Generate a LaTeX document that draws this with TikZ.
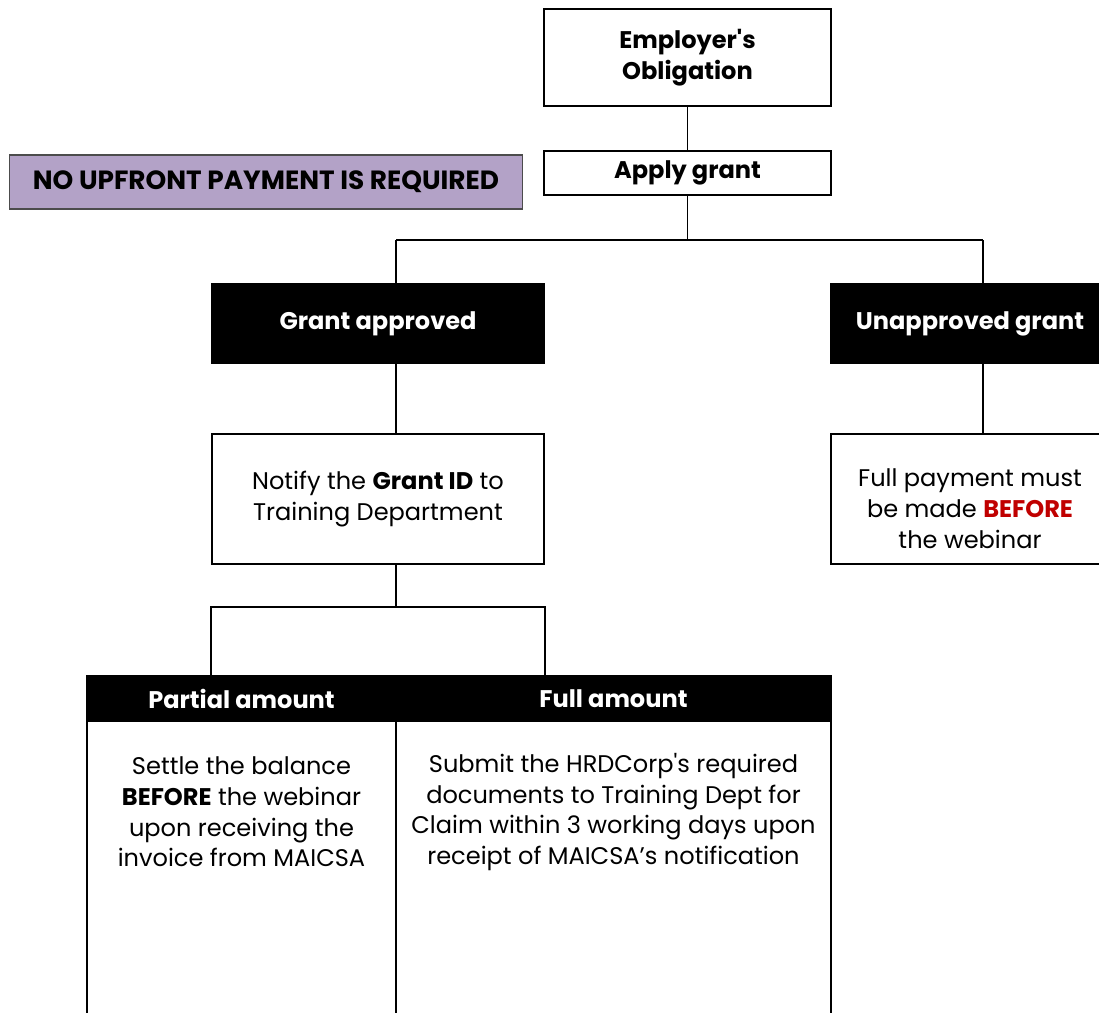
\documentclass[tikz,border=0pt]{standalone}
\usepackage{fontspec}
\setmainfont{Poppins}
\usetikzlibrary{positioning}
\definecolor{notefill}{HTML}{B3A2C7}
\definecolor{alertred}{HTML}{C00000}
\newcommand\chartsize{\fontsize{13.7pt}{17.5pt}\selectfont}
\tikzset{
  box/.style={draw, line width=1pt, align=center, inner sep=0pt, font=\chartsize},
  darkbox/.style={box, fill=black, text=white, font=\chartsize\bfseries},
  link/.style={line width=0.75pt},
}
\begin{document}
\begin{tikzpicture}[x=0.02cm, y=-0.02cm]
  \useasboundingbox (0,0) rectangle (1099,1012);
  \clip (0,0) rectangle (1099,1012);
  % top of the chart
  \node[box, font=\chartsize\bfseries, minimum width=5.74cm, minimum height=1.94cm] (employer) at (687.5,57.5) {Employer\textquotesingle s\\Obligation};
  \node[box, font=\chartsize\bfseries, minimum width=5.74cm, minimum height=0.88cm] (apply) at (687.5,173) {Apply grant};
  \node[box, font=\fontsize{15pt}{18pt}\selectfont\bfseries, fill=notefill, draw=black!70, line width=0.6pt, minimum width=10.28cm, minimum height=1.08cm] (note) at (266,182) {NO UPFRONT PAYMENT IS REQUIRED};
  % the two outcomes
  \node[darkbox, minimum width=6.64cm, minimum height=1.58cm] (approved) at (378,323.5) {Grant approved};
  \node[darkbox, minimum width=5.56cm, minimum height=1.58cm] (unapproved) at (970,323.5) {Unapproved grant};
  \node[box, minimum width=6.64cm, minimum height=2.6cm] (notify) at (378,499) {Notify the \textbf{Grant ID} to\\Training Department};
  \node[box, minimum width=5.56cm, minimum height=2.6cm] (fullpay) at (970,499) {\rule{0pt}{21pt}Full payment must\\be made \textcolor{alertred}{\textbf{BEFORE}}\\the webinar};
  % payment table
  \node[darkbox, minimum width=6.18cm, minimum height=0.9cm] (partialhead) at (241.5,698.5) {Partial amount};
  \node[darkbox, minimum width=8.7cm, minimum height=0.9cm] (fullhead) at (613.5,698.5) {Full amount};
  \node[box, minimum width=6.18cm, minimum height=6.38cm] (partialbody) at (241.5,880.5) {};
  \node[box, minimum width=8.7cm, minimum height=6.38cm] (fullbody) at (613.5,880.5) {};
  \node[align=center, font=\chartsize] (settle) at (241.5,812) {Settle the balance\\\textbf{BEFORE} the webinar\\upon receiving the\\invoice from MAICSA};
  \node[align=center, font=\chartsize] (submit) at (613.5,812) {Submit the HRDCorp\textquotesingle s required\\documents to Training Dept for\\Claim within 3 working days upon\\receipt of MAICSA’s notification};
  % connectors
  \coordinate (fork1) at (687.5,240);
  \coordinate (lbranch) at (396,240);
  \coordinate (rbranch) at (983,240);
  \coordinate (fork2) at (396,607);
  \draw[link] (employer) -- (apply);
  \draw[link] (apply) -- (fork1);
  \draw[link] (lbranch) -- (rbranch);
  \draw[link] (lbranch) -- (lbranch |- approved.north);
  \draw[link] (rbranch) -- (rbranch |- unapproved.north);
  \draw[link] (lbranch |- approved.south) -- (lbranch |- notify.north);
  \draw[link] (rbranch |- unapproved.south) -- (rbranch |- fullpay.north);
  \draw[link] (lbranch |- notify.south) -- (fork2);
  \draw[link] (partialhead.north -| notify.west) |- (fork2) -| (fullhead.north -| notify.east);
\end{tikzpicture}
\end{document}
